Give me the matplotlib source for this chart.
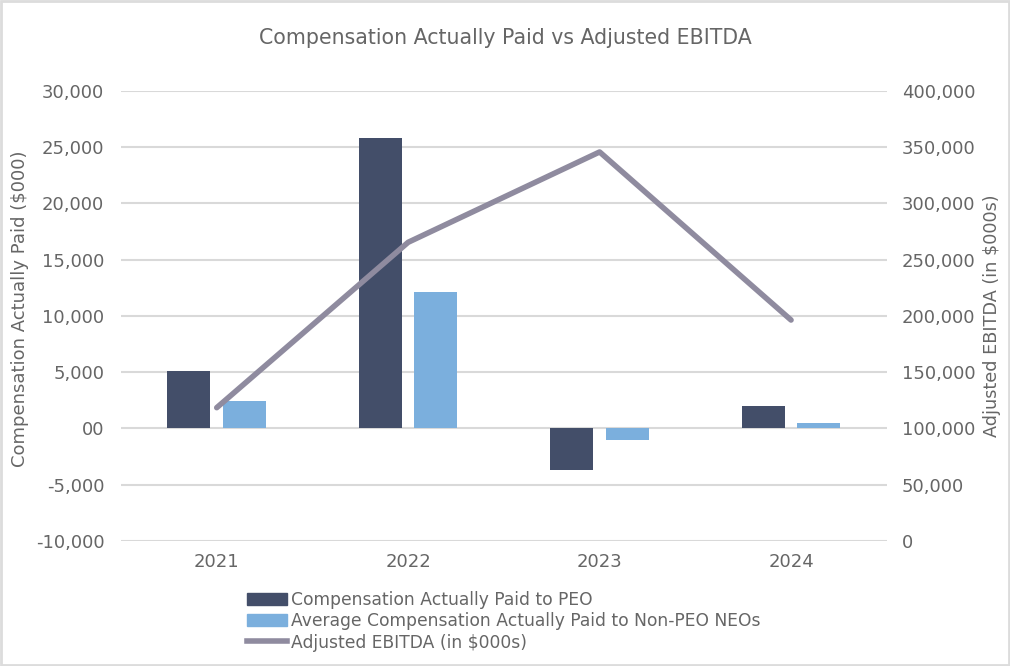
import matplotlib.pyplot as plt
import numpy as np
from matplotlib.patches import Rectangle
from matplotlib.lines import Line2D

years = ['2021', '2022', '2023', '2024']
cap_peo = [5100, 25800, -3700, 2000]
cap_neo = [2400, 12100, -1000, 460]
ebitda = [118500, 265500, 345800, 196400]

left_ticks = [-10000, -5000, 0, 5000, 10000, 15000, 20000, 25000, 30000]
left_labels = ['-10,000', '-5,000', '00', '5,000', '10,000', '15,000', '20,000', '25,000', '30,000']
right_ticks = [0, 50000, 100000, 150000, 200000, 250000, 300000, 350000, 400000]

c_peo = '#434e69'
c_neo = '#7bafdd'
c_line = '#8f8b9f'
c_text = '#666666'
c_grid = '#d9d9d9'

plt.rcParams['font.family'] = ['DejaVu Sans']

fig = plt.figure(figsize=(10.1, 6.66), dpi=100)
ax = fig.add_axes([0.1198, 0.1877, 0.7582, 0.6757])
ax2 = ax.twinx()

x = np.arange(len(years))
w = 0.225
off = 0.145

# 막대
ax.bar(x - off, cap_peo, width=w, color=c_peo, zorder=2)
ax.bar(x + off, cap_neo, width=w, color=c_neo, zorder=2)

# 그리드
for t in left_ticks:
    ax.axhline(t, color=c_grid, linewidth=1.5, zorder=0)

ax.set_xlim(-0.5, 3.5)
ax.set_ylim(-10000, 30000)
ax.set_yticks(left_ticks)
ax.set_yticklabels(left_labels)
ax.set_xticks(x)
ax.set_xticklabels(years)

# 라인 (오른쪽 축)
ax2.plot(x, ebitda, color=c_line, linewidth=4, solid_capstyle='round', zorder=3)
ax2.set_ylim(0, 400000)
ax2.set_yticks(right_ticks)
ax2.set_yticklabels([f'{v:,}' for v in right_ticks])

for a in (ax, ax2):
    for s in a.spines.values():
        s.set_visible(False)
    a.tick_params(length=0, labelsize=13, labelcolor=c_text)
ax.tick_params(axis='y', pad=12)
ax.tick_params(axis='x', pad=9)
ax2.tick_params(axis='y', pad=11)

ax.set_ylabel('Compensation Actually Paid ($000)', fontsize=13, color=c_text, va='center')
ax.yaxis.set_label_coords(-0.132, 0.515)
ax2.set_ylabel('Adjusted EBITDA (in $000s)', fontsize=12.7, color=c_text, va='center')
ax2.yaxis.set_label_coords(1.137, 0.5)

fig.suptitle('Compensation Actually Paid vs Adjusted EBITDA', fontsize=14.8, color=c_text, y=0.958)

handles = [Rectangle((0, 0), 1, 1, color=c_peo),
           Rectangle((0, 0), 1, 1, color=c_neo),
           Line2D([0], [0], color=c_line, linewidth=4)]
labels = ['Compensation Actually Paid to PEO',
          'Average Compensation Actually Paid to Non-PEO NEOs',
          'Adjusted EBITDA (in $000s)']
leg = fig.legend(handles, labels, loc='upper left', bbox_to_anchor=(0.245, 0.113),
                 frameon=False, fontsize=12.3, handlelength=2.3, handleheight=0.75,
                 handletextpad=0.25, labelspacing=0.2, borderaxespad=0, borderpad=0)
for t in leg.get_texts():
    t.set_color(c_text)

# 테두리
fig.patches.append(Rectangle((0.001, 0.0015), 0.998, 0.997, transform=fig.transFigure,
                             fill=False, edgecolor='#dcdcdc', linewidth=2))

fig.savefig('out.png', dpi=100)
